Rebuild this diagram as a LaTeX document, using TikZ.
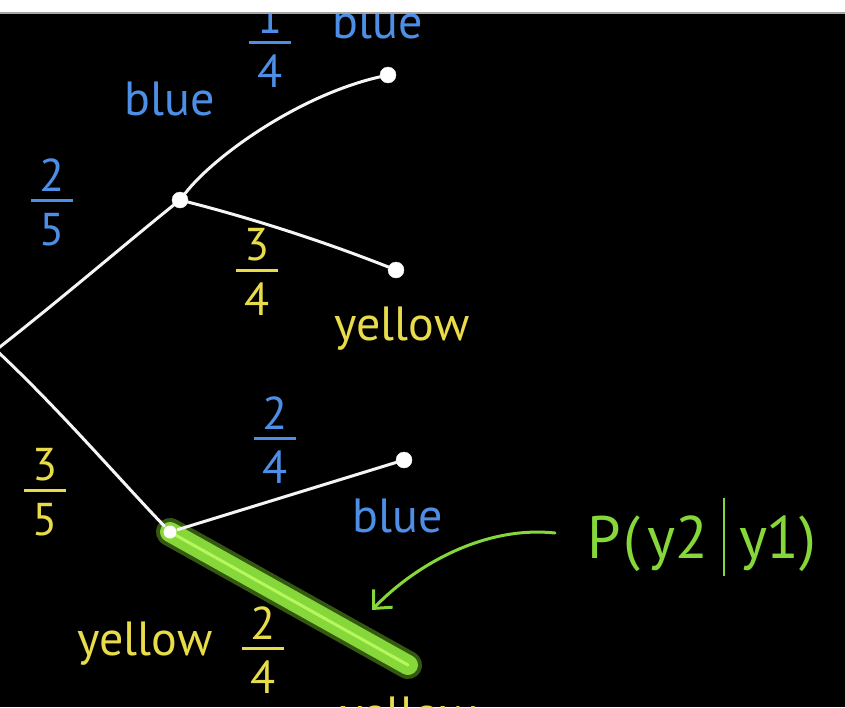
\documentclass[tikz,border=0pt]{standalone}
\usepackage{fontspec}
\setmainfont{PT Sans}
\usetikzlibrary{arrows.meta}
\definecolor{cblue}{HTML}{4D8FE6}
\definecolor{cyel}{HTML}{E8DC4A}
\definecolor{cgreen}{HTML}{86D83A}
\definecolor{cglow}{HTML}{5FA020}
\newcommand\fr[2]{\shortstack{#1\\[5pt]\rule{0.9em}{0.065em}\\[8pt]#2}}
\tikzset{
  word/.style={font=\fontsize{48}{52}\selectfont, anchor=base, inner sep=0pt},
  frac/.style={font=\fontsize{46}{50}\selectfont, inner sep=0pt},
  leaf/.style={circle, fill=white, draw=white!85!gray, minimum size=16pt, inner sep=0pt},
  branch/.style={white!92!gray, line width=3pt, line cap=round},
}
\begin{document}
\begin{tikzpicture}[x=1pt,y=-1pt]
\useasboundingbox (0,0) rectangle (845,707);
\fill[white] (0,0) rectangle (845,13);
\fill[black] (0,13) rectangle (845,707);
\draw[gray!70, line width=1.5pt] (0,13) -- (845,13);
\clip (0,14) rectangle (845,707);
% nodes
\coordinate (root) at (-4,350);
\node[leaf] (b1) at (180,200) {};
\node[leaf] (y1) at (170,532) {};
\node[leaf] (bb) at (388,75) {};
\node[leaf] (by) at (396,270) {};
\node[leaf] (yb) at (404,460) {};
% highlighted edge
\coordinate (yy) at (408,665);
\draw[cglow, line width=28pt, line cap=round, opacity=0.55] (y1.center) -- (yy);
\draw[cgreen, line width=20pt, line cap=round] (y1.center) -- (yy);
\draw[green!40!yellow!60!white, line width=3pt, line cap=round, opacity=0.8] (y1.center) -- (yy);
\node[circle, fill=white, minimum size=13pt, inner sep=0pt] (y1c) at (y1) {};
% branches
\draw[branch] (root) .. controls (60,300) and (130,240) .. (b1);
\draw[branch] (root) .. controls (60,410) and (120,480) .. (y1);
\draw[branch] (b1) .. controls (215,155) and (300,95) .. (bb);
\draw[branch] (b1) .. controls (250,218) and (320,240) .. (by);
\draw[branch] (y1) -- (yb);
% labels
\node[word, text=cblue] (lbb) at (378,38) {blue};
\node[word, text=cblue] (lb1) at (170,115) {blue};
\node[word, text=cyel] (lby) at (402,340) {yellow};
\node[word, text=cblue] (lyb) at (398,532) {blue};
\node[word, text=cyel] (ly1) at (145,655) {yellow};
\node[word, text=cyel] (lyy) at (408,730) {yellow};
\node[frac, text=cblue] (f14) at (270,44) {\fr{1}{4}};
\node[frac, text=cblue] (f25) at (52,202) {\fr{2}{5}};
\node[frac, text=cyel] (f34) at (257,272) {\fr{3}{4}};
\node[frac, text=cblue] (f24b) at (275,440) {\fr{2}{4}};
\node[frac, text=cyel] (f35) at (45,492) {\fr{3}{5}};
\node[frac, text=cyel] (f24y) at (263,650) {\fr{2}{4}};
% annotation
\node[text=cgreen, font=\fontsize{60}{64}\selectfont, inner sep=0pt] (prob) at (702,537)
  {P\kern2pt(\kern8pt y2\kern14pt\rule[-0.3em]{2.5pt}{1.3em}\kern14pt y1)};
\coordinate (arrs) at (555,533);
\coordinate (arre) at (372,610);
\draw[cgreen, line width=3pt, line cap=round, -{Straight Barb[length=14pt,width=26pt,line width=3pt]}]
  (arrs) .. controls (480,525) and (410,570) .. (arre);
\end{tikzpicture}
\end{document}
